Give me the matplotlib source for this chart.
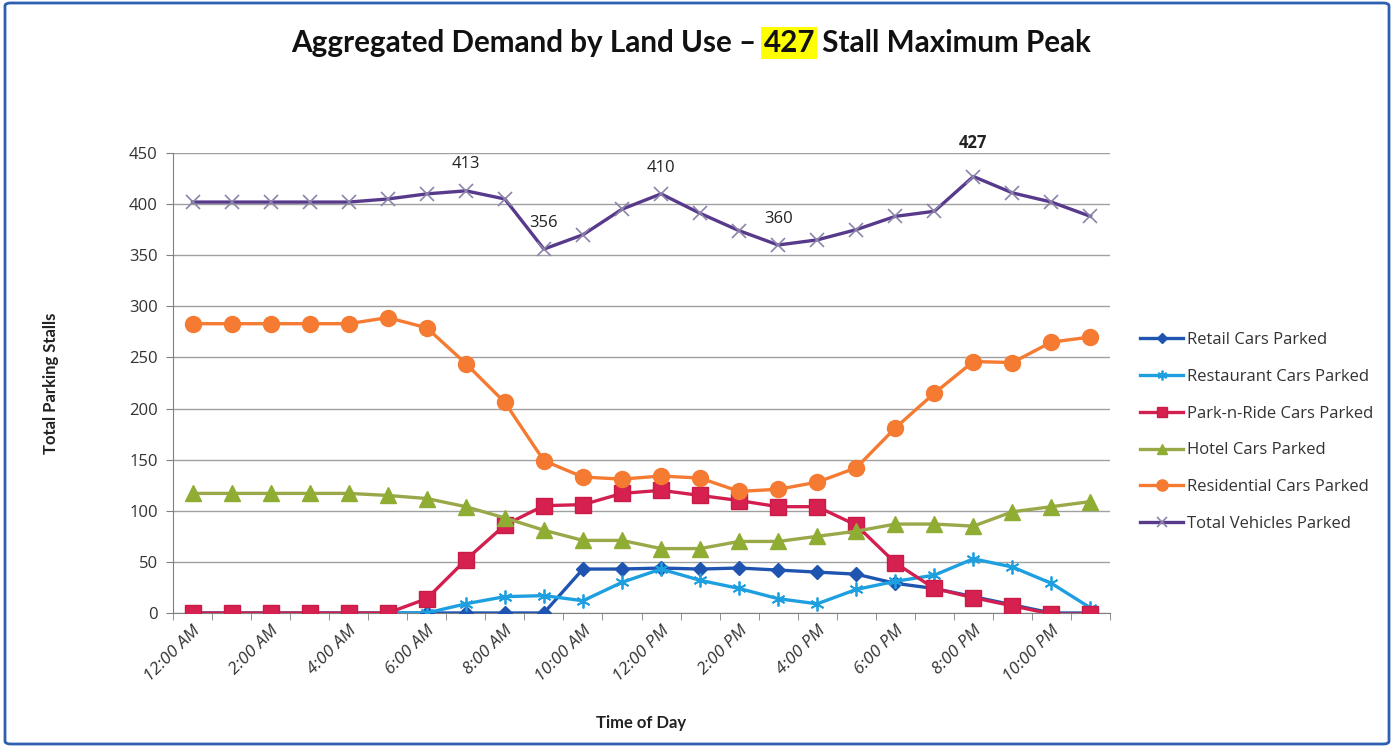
import matplotlib
matplotlib.use("Agg")
import matplotlib.pyplot as plt
from matplotlib.patches import FancyBboxPatch
from matplotlib.ticker import FixedLocator

times = ["12:00 AM", "1:00 AM", "2:00 AM", "3:00 AM", "4:00 AM", "5:00 AM",
         "6:00 AM", "7:00 AM", "8:00 AM", "9:00 AM", "10:00 AM", "11:00 AM",
         "12:00 PM", "1:00 PM", "2:00 PM", "3:00 PM", "4:00 PM", "5:00 PM",
         "6:00 PM", "7:00 PM", "8:00 PM", "9:00 PM", "10:00 PM", "11:00 PM"]

retail = [0, 0, 0, 0, 0, 0, 0, 0, 0, 0, 43, 43, 44, 43, 44, 42, 40, 38, 29, 24, 16, 8, 0, 0]
restaurant = [0, 0, 0, 0, 0, 0, 0, 9, 16, 17, 12, 30, 43, 32, 24, 14, 9, 23, 31, 37, 53, 45, 29, 5]
park_n_ride = [0, 0, 0, 0, 0, 0, 14, 52, 86, 105, 106, 117, 120, 115, 110, 104, 104, 86, 49, 24, 15, 7, -1, -1]
hotel = [117, 117, 117, 117, 117, 115, 112, 104, 93, 81, 71, 71, 63, 63, 70, 70, 75, 80, 87, 87, 85, 99, 104, 109]
residential = [283, 283, 283, 283, 283, 289, 279, 244, 206, 149, 133, 131, 134, 132, 119, 121, 128, 142, 181, 215, 246, 245, 265, 270]
total = [402, 402, 402, 402, 402, 405, 410, 413, 405, 356, 370, 395, 410, 391, 374, 360, 365, 375, 388, 393, 427, 411, 402, 388]

series_names = ["Retail Cars Parked", "Restaurant Cars Parked", "Park-n-Ride Cars Parked",
                "Hotel Cars Parked", "Residential Cars Parked", "Total Vehicles Parked"]
labelled_points = [7, 9, 12, 15, 20]
peak_point = 20

W, H = 1393, 747
fig = plt.figure(figsize=(W / 100, H / 100), dpi=100)
plt.rcParams['font.family'] = ['Lato', 'DejaVu Sans']
OS = ['Open Sans', 'DejaVu Sans']

# axes: left 173, right 1110, top 153, bottom 613
ax = fig.add_axes([173 / W, 1 - 613 / H, (1110 - 173) / W, (613 - 153) / H])

x = list(range(len(times)))
styles = [
    dict(color='#1f55b0', marker='D', markersize=7.5, mfc='#1f55b0', mec='#1f55b0'),
    dict(color='#1e9fe0', marker=(6, 2, 0), markersize=10, mfc='#1e9fe0', mec='#1e9fe0', mew=1.3),
    dict(color='#d21f4f', marker='s', markersize=11, mfc='#d6204f', mec='#c81b48'),
    dict(color='#9aa84a', marker='^', markersize=11, mfc='#8fac33', mec='#8fac33'),
    dict(color='#f57a32', marker='o', markersize=11.5, mfc='#f57a32', mec='#f57a32'),
    dict(color='#573a8c', marker='x', markersize=10, mfc='#8c84aa', mec='#8c84aa', mew=1.2),
]
data = [retail, restaurant, park_n_ride, hotel, residential, total]
for i, (vals, name, st) in enumerate(zip(data, series_names, styles)):
    ax.plot(x, vals, lw=2.4, label=name, zorder=3 + i, **st)

for idx in labelled_points:
    bold = idx == peak_point
    ax.annotate(str(total[idx]), (idx, total[idx]), xytext=(0, 24 if bold else 19),
                textcoords='offset points', ha='center', va='center',
                fontsize=12, fontweight='bold' if bold else 'normal',
                color='#222222', family=OS)

ax.set_xlim(-0.5, len(times) - 0.5)
ax.set_ylim(0, 450)
ax.set_yticks(range(0, 451, 50))
ax.yaxis.grid(True, color='#a0a0a0', lw=1.0)
ax.set_axisbelow(True)
ax.xaxis.set_major_locator(FixedLocator(x[::2]))
ax.set_xticklabels(times[::2], rotation=45, ha='right', rotation_mode='anchor',
                   fontsize=12.5, style='italic', color='#333333', family=OS)
ax.xaxis.set_minor_locator(FixedLocator([i - 0.5 for i in range(len(times) + 1)]))
ax.tick_params(axis='x', which='major', length=0, pad=7)
ax.tick_params(axis='x', which='minor', length=5, color='#808080', direction='out')
ax.tick_params(axis='y', length=5, color='#808080', labelsize=12, labelcolor='#333333', pad=6)
for lab in ax.get_yticklabels():
    lab.set_family(OS)
for s in ['top', 'right']:
    ax.spines[s].set_visible(False)
ax.spines['left'].set_color('#808080')
ax.spines['bottom'].set_color('#808080')

ax.set_ylabel("Total Parking Stalls", fontsize=12, fontweight='bold', color='#222222', labelpad=50)
ax.set_xlabel("Time of Day", fontsize=12, fontweight='bold', color='#222222', labelpad=22)

leg = ax.legend(loc='center left', bbox_to_anchor=(1125 / W, 1 - 432 / H),
                bbox_transform=fig.transFigure, frameon=False,
                labelspacing=1.25, handlelength=2.6, handletextpad=0.2, markerscale=0.7,
                prop={'family': OS, 'size': 12})
for t in leg.get_texts():
    t.set_color('#333333')

# title with highlighted number
fig.canvas.draw()
r = fig.canvas.get_renderer()
parts = ["Aggregated Demand by Land Use \u2013 ", "427", " Stall Maximum Peak"]
tprops = dict(fontsize=21.3, fontweight='bold', color='#111111', va='center', ha='left')
objs = [fig.text(0, 1 - 43 / H, p, **tprops) for p in parts]
widths = [o.get_window_extent(r).width for o in objs]
total_w = sum(widths)
x0 = 691 - total_w / 2
for o, w in zip(objs, widths):
    o.set_x(x0 / W)
    x0 += w
objs[1].set_bbox(dict(facecolor='#ffff00', edgecolor='none', pad=1.5))

# border
border = FancyBboxPatch((5 / W, 3 / H), (1389 - 5) / W, (744 - 3) / H,
                        boxstyle='round,pad=0,rounding_size=0.004', transform=fig.transFigure,
                        facecolor='none', edgecolor='#2f5fb0', lw=2)
fig.patches.append(border)

fig.savefig("out.png", dpi=100)
